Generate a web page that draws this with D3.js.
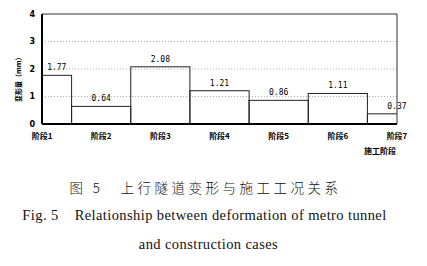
<!DOCTYPE html>
<html>
<head>
<meta charset="utf-8">
<script src="https://cdn.jsdelivr.net/npm/d3@7"></script>
<style>
  body { margin: 0; background: #fff; }
  svg { display: block; }
  .tick-y { font-family: "DejaVu Sans"; font-weight: bold; font-size: 8px; fill: #000; }
  .val { font-family: "DejaVu Sans Mono"; font-size: 8px; fill: #000; }
  .cat { font-family: "Noto Sans CJK SC"; font-weight: bold; font-size: 8px; fill: #000; }
</style>
</head>
<body>
<div id="chart"></div>
<script>
// stages and deformation (mm)
const stages = ["阶段1", "阶段2", "阶段3", "阶段4", "阶段5", "阶段6", "阶段7"];
const deform = [1.77, 0.64, 2.08, 1.21, 0.86, 1.11, 0.37];
const yTicks = [0, 1, 2, 3, 4];
const gridTicks = [1, 2, 3];

const width = 427, height = 266;
const margin = {top: 14, right: 30, bottom: 142, left: 42};
const innerW = width - margin.left - margin.right;
const innerH = height - margin.top - margin.bottom;

const svg = d3.select("#chart").append("svg")
  .attr("width", width)
  .attr("height", height);

const g = svg.append("g")
  .attr("transform", "translate(" + margin.left + "," + margin.top + ")");

const x = d3.scalePoint().domain(stages).range([0, innerW]);
const y = d3.scaleLinear().domain([0, 4]).range([innerH, 0]);
const step = x.step();

g.append("clipPath").attr("id", "plotclip")
  .append("rect").attr("width", innerW).attr("height", innerH);

// dotted grid
g.selectAll(".grid").data(gridTicks).enter().append("line")
  .attr("x1", 0).attr("x2", innerW)
  .attr("y1", d => y(d)).attr("y2", d => y(d))
  .attr("stroke", "#999").attr("stroke-width", 0.8)
  .attr("stroke-dasharray", "1,2");

// step bars centered on each stage
g.append("g").attr("clip-path", "url(#plotclip)")
  .selectAll("rect").data(deform).enter().append("rect")
  .attr("x", (d, i) => x(stages[i]) - step / 2)
  .attr("y", d => y(d))
  .attr("width", step)
  .attr("height", d => innerH - y(d))
  .attr("fill", "none")
  .attr("stroke", "#222").attr("stroke-width", 1);

// frame: top and right thin, left and bottom heavy
g.append("line").attr("x1", 0).attr("x2", innerW).attr("y1", 0).attr("y2", 0)
  .attr("stroke", "#333").attr("stroke-width", 1);
g.append("line").attr("x1", innerW).attr("x2", innerW).attr("y1", 0).attr("y2", innerH)
  .attr("stroke", "#333").attr("stroke-width", 1);
g.append("line").attr("x1", 0).attr("x2", 0).attr("y1", 0).attr("y2", innerH)
  .attr("stroke", "#000").attr("stroke-width", 2);
g.append("line").attr("x1", 0).attr("x2", innerW).attr("y1", innerH).attr("y2", innerH)
  .attr("stroke", "#000").attr("stroke-width", 2);

// y tick labels
g.selectAll(".tick-y").data(yTicks).enter().append("text")
  .attr("class", "tick-y")
  .attr("x", -7).attr("y", d => y(d)).attr("dy", "0.35em")
  .attr("text-anchor", "end")
  .text(d => d);

// y axis title
g.append("text")
  .attr("class", "cat")
  .attr("transform", "translate(-21," + (innerH * 0.58) + ") rotate(-90)")
  .attr("text-anchor", "middle")
  .style("font-size", "7px")
  .text("变形量（mm）");

// value labels
g.selectAll(".val").data(deform).enter().append("text")
  .attr("class", "val")
  .attr("x", (d, i) => i === 0 ? step / 4 : x(stages[i]))
  .attr("y", d => y(d) - 5)
  .attr("text-anchor", "middle")
  .text(d => d.toFixed(2));

// category labels
g.selectAll(".cat-l").data(stages).enter().append("text")
  .attr("class", "cat")
  .attr("x", d => x(d)).attr("y", innerH + 15)
  .attr("text-anchor", "middle")
  .text(d => d);

g.append("text").attr("class", "cat")
  .attr("x", innerW - 17).attr("y", innerH + 30)
  .attr("text-anchor", "middle")
  .text("施工阶段");

// figure caption
const cap = svg.append("g").attr("fill", "#111");
cap.append("text")
  .attr("x", width / 2 - 8).attr("y", 193)
  .attr("text-anchor", "middle")
  .style("font-family", "Noto Sans CJK SC").style("font-weight", 300)
  .style("font-size", "13.5px").style("letter-spacing", "3.5px")
  .text("图 5　上行隧道变形与施工工况关系");
cap.append("text")
  .attr("x", width / 2 - 9).attr("y", 220)
  .attr("text-anchor", "middle")
  .style("font-family", "Liberation Serif")
  .style("font-size", "14.5px").style("letter-spacing", "0.4px")
  .attr("xml:space", "preserve")
  .text("Fig. 5    Relationship between deformation of metro tunnel");
cap.append("text")
  .attr("x", width / 2 - 5).attr("y", 249)
  .attr("text-anchor", "middle")
  .style("font-family", "Liberation Serif")
  .style("font-size", "14.5px").style("letter-spacing", "0.4px")
  .text("and construction cases");
</script>
</body>
</html>
